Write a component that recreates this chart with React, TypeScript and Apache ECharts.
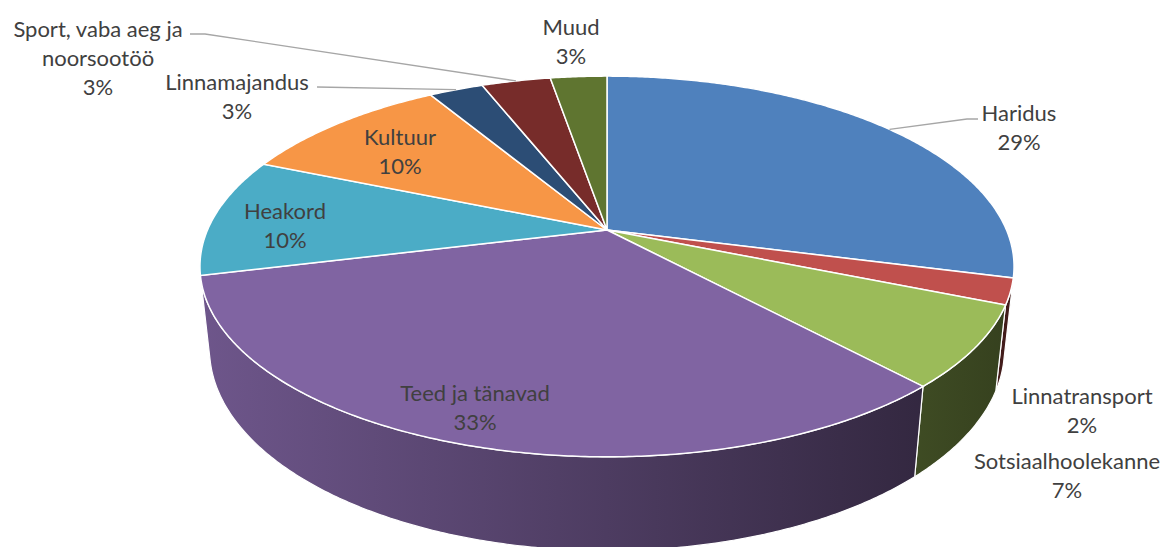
import React, { useEffect, useRef } from "react";
import * as echarts from "echarts";

// ---- data ----
const categories = [
  "Haridus",
  "Linnatransport",
  "Sotsiaalhoolekanne",
  "Teed ja tänavad",
  "Heakord",
  "Kultuur",
  "Linnamajandus",
  "Sport, vaba aeg ja noorsootöö",
  "Muud",
];
const values = [29.0, 2.2, 6.9, 33.1, 10.1, 10.1, 2.6, 3.3, 2.7];
const colors = [
  "#4F81BD",
  "#C0504D",
  "#9BBB59",
  "#8064A2",
  "#4BACC6",
  "#F79646",
  "#2C4D75",
  "#772C2A",
  "#5F7530",
];

// ---- layout (label centres, wrapped names, leader elbows) ----
const LABEL_LAYOUT: { x: number; y: number; lines?: string[]; leader?: number[][] }[] = [
  { x: 1019, y: 127, leader: [[967, 119], [978, 119]] },
  { x: 1082, y: 410 },
  { x: 1067, y: 475 },
  { x: 475, y: 407 },
  { x: 285, y: 225 },
  { x: 400, y: 151 },
  { x: 237, y: 96, leader: [[317, 87]] },
  { x: 98, y: 57, lines: ["Sport, vaba aeg ja", "noorsootöö"], leader: [[205, 34], [190, 34]] },
  { x: 571, y: 41 },
];

// ---- 3D projection parameters ----
const CX = 607;
const CY = 230;
const S = 399.5;
const SIN_T = 0.459;
const COS_T = 0.888;
const K = 0.2157;
const H = 0.235;
// walls facing the camera: cos(phi) < -K / COS_T
const VIS = (Math.acos(-K / COS_T) * 180) / Math.PI;

function proj(phiDeg: number, r: number, z: number): number[] {
  const a = (phiDeg * Math.PI) / 180;
  const X = r * Math.sin(a);
  const Y = r * Math.cos(a);
  const den = 1 + K * (Y * COS_T - z * SIN_T);
  return [CX + (S * X) / den, CY - (S * (Y * SIN_T + z * COS_T)) / den];
}

function shade(hex: string, f: number): string {
  const n = parseInt(hex.slice(1), 16);
  const r = Math.round(((n >> 16) & 255) * f);
  const g = Math.round(((n >> 8) & 255) * f);
  const b = Math.round((n & 255) * f);
  return `rgb(${r},${g},${b})`;
}

const total = values.reduce((a, b) => a + b, 0);
const startAngles: number[] = [];
const endAngles: number[] = [];
{
  let acc = 0;
  values.forEach((v) => {
    startAngles.push((acc / total) * 360);
    acc += v;
    endAngles.push((acc / total) * 360);
  });
}
const pctLabels = values.map((v) => Math.round((v / total) * 100) + "%");

const FONT = "Lato, 'Open Sans', sans-serif";

export default function App() {
  const ref = useRef<HTMLDivElement>(null);
  useEffect(() => {
    if (!ref.current) return;
    const chart = echarts.init(ref.current, null, { renderer: "svg" });
    const data = values.map((v, i) => [i, v]);

    const wallSeries = {
      type: "custom",
      coordinateSystem: "none",
      z: 1,
      data,
      renderItem: (params: any) => {
        const i = params.dataIndex;
        const a0 = Math.max(startAngles[i], VIS);
        const a1 = Math.min(endAngles[i], 360 - VIS);
        if (a1 <= a0) return { type: "group", children: [] };
        const n = Math.max(2, Math.ceil((a1 - a0) / 0.5));
        const pts: number[][] = [];
        for (let k = 0; k <= n; k++) pts.push(proj(a0 + ((a1 - a0) * k) / n, 1, 0));
        for (let k = n; k >= 0; k--) pts.push(proj(a0 + ((a1 - a0) * k) / n, 1, -H));
        const c = colors[i];
        return {
          type: "polygon",
          shape: { points: pts },
          style: {
            fill: {
              type: "linear",
              x: 200,
              y: 0,
              x2: 1013,
              y2: 0,
              global: true,
              colorStops: [
                { offset: 0, color: shade(c, 0.86) },
                { offset: 0.5, color: shade(c, 0.6) },
                { offset: 1, color: shade(c, 0.34) },
              ],
            },
            stroke: "#ffffff",
            lineWidth: 1.2,
          },
        };
      },
    };

    const topSeries = {
      type: "custom",
      coordinateSystem: "none",
      z: 2,
      data,
      renderItem: (params: any) => {
        const i = params.dataIndex;
        const a0 = startAngles[i];
        const a1 = endAngles[i];
        const n = Math.max(2, Math.ceil((a1 - a0) / 0.5));
        const pts: number[][] = [proj(0, 0, 0)];
        for (let k = 0; k <= n; k++) pts.push(proj(a0 + ((a1 - a0) * k) / n, 1, 0));
        return {
          type: "polygon",
          shape: { points: pts },
          style: { fill: colors[i], stroke: "#ffffff", lineWidth: 1.5 },
        };
      },
    };

    const labelSeries = {
      type: "custom",
      coordinateSystem: "none",
      z: 3,
      data,
      renderItem: (params: any) => {
        const i = params.dataIndex;
        const lay = LABEL_LAYOUT[i];
        const lines = (lay.lines || [categories[i]]).concat([pctLabels[i]]);
        const children: any[] = [];
        if (lay.leader) {
          const mid = (startAngles[i] + endAngles[i]) / 2;
          const p0 = proj(mid, 1, 0);
          children.push({
            type: "polyline",
            shape: { points: [p0].concat(lay.leader) },
            style: { stroke: "#A6A6A6", lineWidth: 1.3, fill: null },
          });
        }
        children.push({
          type: "text",
          x: lay.x,
          y: lay.y,
          style: {
            text: lines.join("\n"),
            fill: "#404040",
            fontSize: 22,
            fontFamily: FONT,
            align: "center",
            verticalAlign: "middle",
            lineHeight: 29,
          },
        });
        return { type: "group", children };
      },
    };

    chart.setOption({
      animation: false,
      backgroundColor: "#ffffff",
      series: [wallSeries, topSeries, labelSeries],
    });
    return () => chart.dispose();
  }, []);
  return (
    <div
      ref={ref}
      style={{ position: "fixed", left: 0, top: 0, width: 1162, height: 547 }}
    />
  );
}
